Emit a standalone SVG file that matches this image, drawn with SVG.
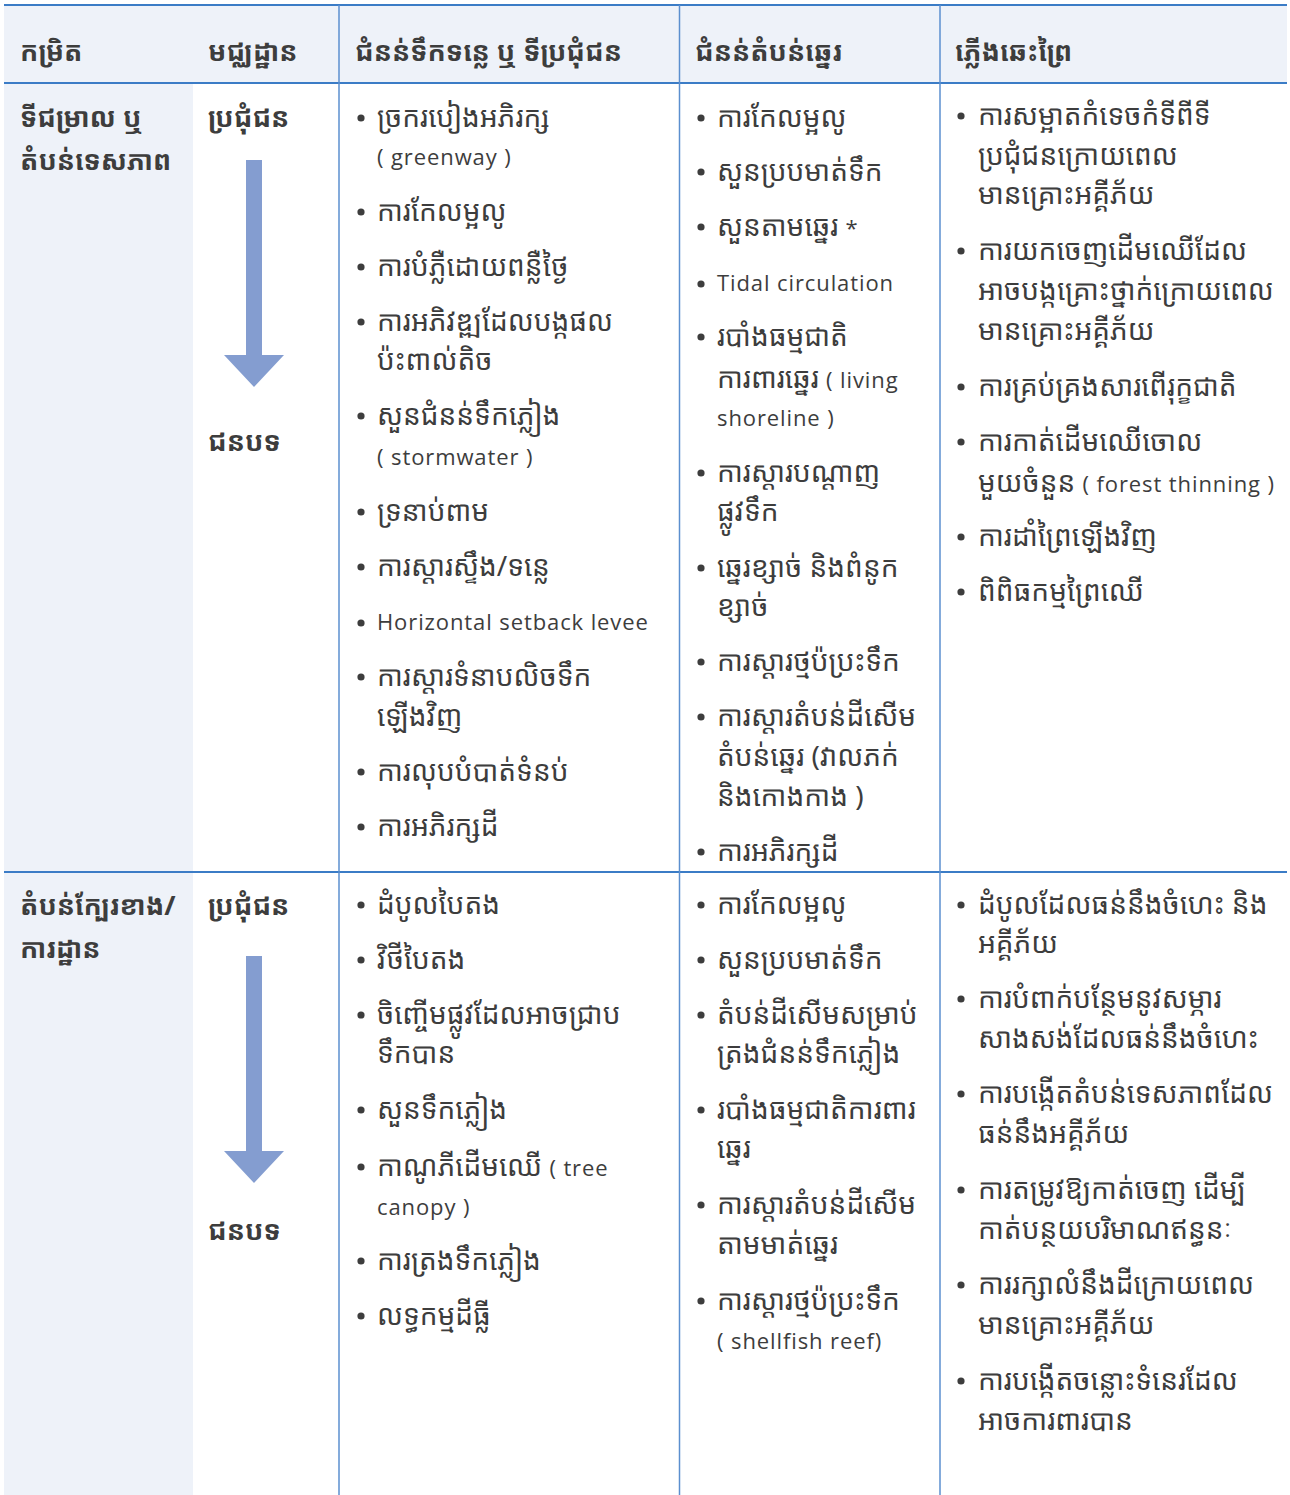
<svg xmlns="http://www.w3.org/2000/svg" xmlns:xlink="http://www.w3.org/1999/xlink" width="1290" height="1495" viewBox="0 0 1290 1495">
  <style>
    .km { font-family: "Noto Sans Khmer", "Noto Serif Khmer", "Khmer OS", "Noto Sans", "DejaVu Sans", sans-serif; font-size: 28px; fill: #3d3d3d; }
    .hd { font-weight: bold; font-size: 27px; }
    .lbl { font-weight: bold; font-size: 27px; }
    .lat { font-family: "Open Sans", Lato, "Liberation Sans", sans-serif; font-size: 22px; letter-spacing: 0.9px; fill: #3d3d3d; }
    .hline { stroke: #3b7cc6; stroke-width: 2; }
    .vline { stroke: #5b8fcf; stroke-width: 1.5; }
    .arrow { fill: #849dd0; }
    .dot { fill: #3d3d3d; }
  </style>
  <defs>
    <circle id="b" r="3.6" class="dot"/>
    <!-- downward block arrow, tip at origin -->
    <path id="arr" class="arrow" d="M-8,-227 H8 V-32 H30 L0,0 L-30,-32 H-8 Z"/>
  </defs>

  <!-- backgrounds -->
  <rect x="4" y="5" width="1283" height="78" fill="#eef2f9"/>
  <rect x="4" y="83" width="189" height="1412" fill="#eef2f9"/>

  <!-- grid -->
  <g id="grid">
    <line class="hline" x1="4" y1="5" x2="1287" y2="5"/>
    <line class="hline" x1="4" y1="83" x2="1287" y2="83"/>
    <line class="hline" x1="4" y1="872" x2="1287" y2="872"/>
    <line class="vline" x1="339" y1="5" x2="339" y2="1495"/>
    <line class="vline" x1="679.5" y1="5" x2="679.5" y2="1495"/>
    <line class="vline" x1="940" y1="5" x2="940" y2="1495"/>
  </g>

  <!-- header row -->
  <g id="header" class="km hd">
    <text x="20" y="61">កម្រិត</text>
    <text x="208" y="61">មជ្ឈដ្ឋាន</text>
    <text x="355" y="61">ជំនន់ទឹកទន្លេ ឬ ទីប្រជុំជន</text>
    <text x="695" y="61">ជំនន់តំបន់ឆ្នេរ</text>
    <text x="955" y="61">ភ្លើងឆេះព្រៃ</text>
  </g>

  <!-- row 1: slopes / landscape -->
  <g id="row1-type" class="km lbl">
    <text x="20" y="127">ទីជម្រាល ឬ</text>
    <text x="20" y="170">តំបន់ទេសភាព</text>
  </g>
  <g id="row1-setting">
    <text class="km lbl" x="208" y="127">ប្រជុំជន</text>
    <use xlink:href="#arr" x="254" y="387"/>
    <text class="km lbl" x="208" y="451">ជនបទ</text>
  </g>
  <g id="row1-river" class="km">
    <use xlink:href="#b" x="361" y="118"/><text x="377" y="127">ច្រករបៀងអភិរក្ស</text>
    <text class="lat" x="377" y="165">( greenway )</text>
    <use xlink:href="#b" x="361" y="212"/><text x="377" y="221">ការកែលម្អលូ</text>
    <use xlink:href="#b" x="361" y="267"/><text x="377" y="276">ការបំភ្លឺដោយពន្លឺថ្ងៃ</text>
    <use xlink:href="#b" x="361" y="322"/><text x="377" y="331">ការអភិវឌ្ឍដែលបង្កផល</text>
    <text x="377" y="370">ប៉ះពាល់តិច</text>
    <use xlink:href="#b" x="361" y="416"/><text x="377" y="425">សួនជំនន់ទឹកភ្លៀង</text>
    <text class="lat" x="377" y="465">( stormwater )</text>
    <use xlink:href="#b" x="361" y="512"/><text x="377" y="521">ទ្រនាប់ពាម</text>
    <use xlink:href="#b" x="361" y="567"/><text x="377" y="576">ការស្តារស្ទឹង/ទន្លេ</text>
    <use xlink:href="#b" x="361" y="623"/><text class="lat" x="377" y="630">Horizontal setback levee</text>
    <use xlink:href="#b" x="361" y="677"/><text x="377" y="686">ការស្តារទំនាបលិចទឹក</text>
    <text x="377" y="726">ឡើងវិញ</text>
    <use xlink:href="#b" x="361" y="772"/><text x="377" y="781">ការលុបបំបាត់ទំនប់</text>
    <use xlink:href="#b" x="361" y="827"/><text x="377" y="836">ការអភិរក្សដី</text>
  </g>
  <g id="row1-coast" class="km">
    <use xlink:href="#b" x="701" y="118"/><text x="717" y="127">ការកែលម្អលូ</text>
    <use xlink:href="#b" x="701" y="172"/><text x="717" y="181">សួនប្របមាត់ទឹក</text>
    <use xlink:href="#b" x="701" y="227"/><text x="717" y="236">សួនតាមឆ្នេរ <tspan class="lat">*</tspan></text>
    <use xlink:href="#b" x="701" y="284"/><text class="lat" x="717" y="291">Tidal circulation</text>
    <use xlink:href="#b" x="701" y="337"/><text x="717" y="346">របាំងធម្មជាតិ</text>
    <text x="717" y="388">ការពារឆ្នេរ <tspan class="lat">( living</tspan></text>
    <text class="lat" x="717" y="426">shoreline )</text>
    <use xlink:href="#b" x="701" y="473"/><text x="717" y="482">ការស្តារបណ្តាញ</text>
    <text x="717" y="521">ផ្លូវទឹក</text>
    <use xlink:href="#b" x="701" y="568"/><text x="717" y="577">ឆ្នេរខ្សាច់ និងពំនូក</text>
    <text x="717" y="616">ខ្សាច់</text>
    <use xlink:href="#b" x="701" y="662"/><text x="717" y="671">ការស្តារថ្មប៉ប្រះទឹក</text>
    <use xlink:href="#b" x="701" y="717"/><text x="717" y="726">ការស្តារតំបន់ដីសើម</text>
    <text x="717" y="766">តំបន់ឆ្នេរ (វាលភក់</text>
    <text x="717" y="806">និងកោងកាង )</text>
    <use xlink:href="#b" x="701" y="852"/><text x="717" y="861">ការអភិរក្សដី</text>
  </g>
  <g id="row1-fire" class="km">
    <use xlink:href="#b" x="961" y="116"/><text x="978" y="125">ការសម្អាតកំទេចកំទីពីទី</text>
    <text x="978" y="165">ប្រជុំជនក្រោយពេល</text>
    <text x="978" y="204">មានគ្រោះអគ្គីភ័យ</text>
    <use xlink:href="#b" x="961" y="251"/><text x="978" y="260">ការយកចេញដើមឈើដែល</text>
    <text x="978" y="300">អាចបង្កគ្រោះថ្នាក់ក្រោយពេល</text>
    <text x="978" y="340">មានគ្រោះអគ្គីភ័យ</text>
    <use xlink:href="#b" x="961" y="387"/><text x="978" y="396">ការគ្រប់គ្រងសារពើរុក្ខជាតិ</text>
    <use xlink:href="#b" x="961" y="442"/><text x="978" y="451">ការកាត់ដើមឈើចោល</text>
    <text x="978" y="492">មួយចំនួន <tspan class="lat">( forest thinning )</tspan></text>
    <use xlink:href="#b" x="961" y="537"/><text x="978" y="546">ការដាំព្រៃឡើងវិញ</text>
    <use xlink:href="#b" x="961" y="592"/><text x="978" y="601">ពិពិធកម្មព្រៃឈើ</text>
  </g>

  <!-- row 2: adjacent areas / sites -->
  <g id="row2-type" class="km lbl">
    <text x="20" y="915">តំបន់ក្បែរខាង/</text>
    <text x="20" y="958">ការដ្ឋាន</text>
  </g>
  <g id="row2-setting">
    <text class="km lbl" x="208" y="915">ប្រជុំជន</text>
    <use xlink:href="#arr" x="254" y="1183"/>
    <text class="km lbl" x="208" y="1240">ជនបទ</text>
  </g>
  <g id="row2-river" class="km">
    <use xlink:href="#b" x="361" y="905"/><text x="377" y="914">ដំបូលបៃតង</text>
    <use xlink:href="#b" x="361" y="960"/><text x="377" y="969">វិថីបៃតង</text>
    <use xlink:href="#b" x="361" y="1015"/><text x="377" y="1024">ចិញ្ចើមផ្លូវដែលអាចជ្រាប</text>
    <text x="377" y="1063">ទឹកបាន</text>
    <use xlink:href="#b" x="361" y="1110"/><text x="377" y="1119">សួនទឹកភ្លៀង</text>
    <use xlink:href="#b" x="361" y="1167"/><text x="377" y="1176">កាណូភីដើមឈើ <tspan class="lat">( tree</tspan></text>
    <text class="lat" x="377" y="1215">canopy )</text>
    <use xlink:href="#b" x="361" y="1261"/><text x="377" y="1270">ការត្រងទឹកភ្លៀង</text>
    <use xlink:href="#b" x="361" y="1316"/><text x="377" y="1325">លទ្ធកម្មដីធ្លី</text>
  </g>
  <g id="row2-coast" class="km">
    <use xlink:href="#b" x="701" y="905"/><text x="717" y="914">ការកែលម្អលូ</text>
    <use xlink:href="#b" x="701" y="960"/><text x="717" y="969">សួនប្របមាត់ទឹក</text>
    <use xlink:href="#b" x="701" y="1015"/><text x="717" y="1024">តំបន់ដីសើមសម្រាប់</text>
    <text x="717" y="1063">ត្រងជំនន់ទឹកភ្លៀង</text>
    <use xlink:href="#b" x="701" y="1110"/><text x="717" y="1119">របាំងធម្មជាតិការពារ</text>
    <text x="717" y="1158">ឆ្នេរ</text>
    <use xlink:href="#b" x="701" y="1205"/><text x="717" y="1214">ការស្តារតំបន់ដីសើម</text>
    <text x="717" y="1254">តាមមាត់ឆ្នេរ</text>
    <use xlink:href="#b" x="701" y="1301"/><text x="717" y="1310">ការស្តារថ្មប៉ប្រះទឹក</text>
    <text class="lat" x="717" y="1349">( shellfish reef)</text>
  </g>
  <g id="row2-fire" class="km">
    <use xlink:href="#b" x="961" y="905"/><text x="978" y="914">ដំបូលដែលធន់នឹងចំហេះ និង</text>
    <text x="978" y="953">អគ្គីភ័យ</text>
    <use xlink:href="#b" x="961" y="999"/><text x="978" y="1008">ការបំពាក់បន្ថែមនូវសម្ភារ</text>
    <text x="978" y="1048">សាងសង់ដែលធន់នឹងចំហេះ</text>
    <use xlink:href="#b" x="961" y="1094"/><text x="978" y="1103">ការបង្កើតតំបន់ទេសភាពដែល</text>
    <text x="978" y="1143">ធន់នឹងអគ្គីភ័យ</text>
    <use xlink:href="#b" x="961" y="1190"/><text x="978" y="1199">ការតម្រូវឱ្យកាត់ចេញ ដើម្បី</text>
    <text x="978" y="1239">កាត់បន្ថយបរិមាណឥន្ធនៈ</text>
    <use xlink:href="#b" x="961" y="1285"/><text x="978" y="1294">ការរក្សាលំនឹងដីក្រោយពេល</text>
    <text x="978" y="1334">មានគ្រោះអគ្គីភ័យ</text>
    <use xlink:href="#b" x="961" y="1381"/><text x="978" y="1390">ការបង្កើតចន្លោះទំនេរដែល</text>
    <text x="978" y="1430">អាចការពារបាន</text>
  </g>
</svg>
